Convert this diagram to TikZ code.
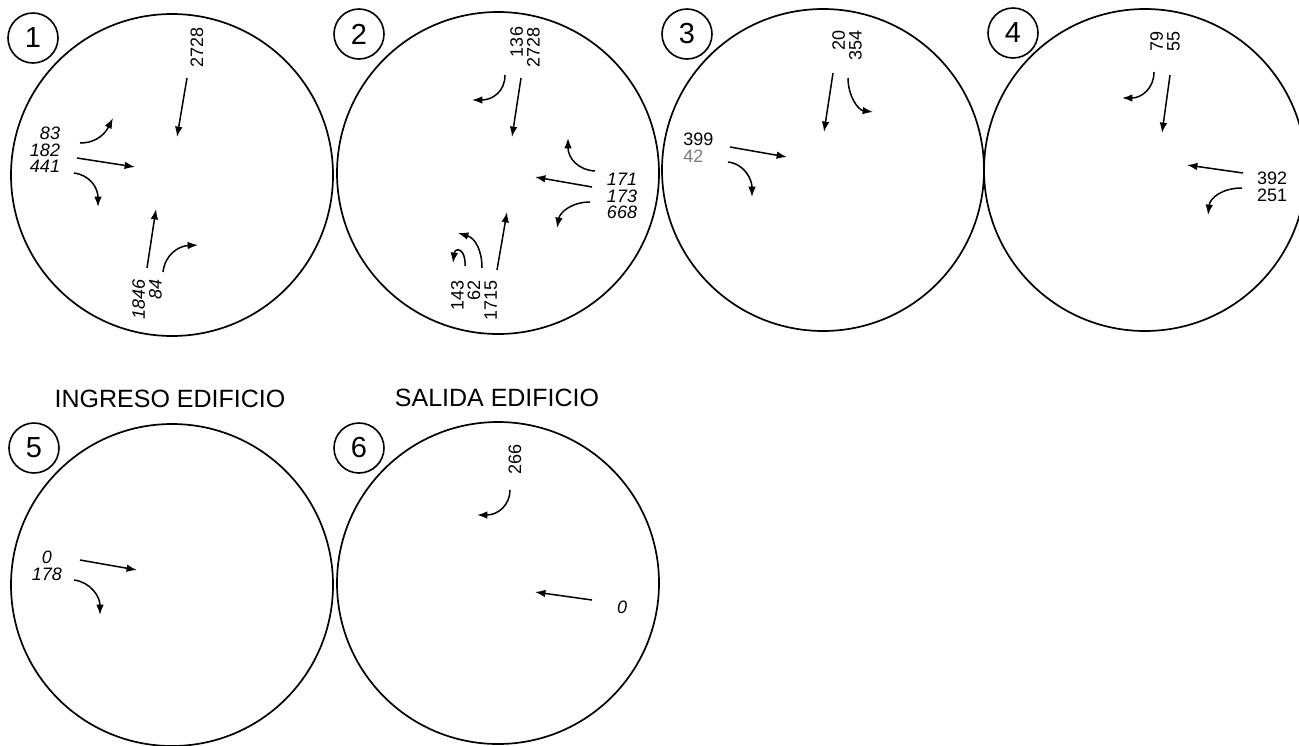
\documentclass[tikz,border=0pt]{standalone}
\usepackage{fontspec}
\setmainfont{Liberation Sans}
\usetikzlibrary{arrows.meta}
\definecolor{lightink}{RGB}{125,125,125}
\begin{document}
\begin{tikzpicture}[x=0.5pt,y=-0.5pt,
  big/.style={draw,circle,line width=0.85pt,minimum size=161pt,inner sep=0pt},
  lab/.style={draw,circle,line width=0.8pt,minimum size=25pt,inner sep=0pt,font=\fontsize{14.5}{14.5}\selectfont},
  num/.style={inner sep=0pt,font=\fontsize{9}{8.3}\selectfont},
  inum/.style={num,font=\fontsize{9}{8.3}\selectfont\itshape},
  ttl/.style={inner sep=0pt,font=\fontsize{12.5}{12.5}\selectfont},
  arr/.style={line width=0.75pt,-{Latex[length=5.2pt,width=3.8pt]}}]
\useasboundingbox (0,0) rectangle (1299,745);
\fill[white] (0,0) rectangle (1299,745);

% ---------- circle 1 ----------
\node[big] (C1) at (172,175) {};
\node[lab] (L1) at (33,38) {1};
\node[num,rotate=90] (t1a) at (197,47) {2728};
\node[inum,align=right] (t1b) at (45,150) {83\\182\\441};
\node[inum,rotate=90,align=right] (t1c) at (147,299) {1846\\84};
\coordinate (p1a) at (187,78);  \coordinate (q1a) at (177,137);
\coordinate (p1b) at (80,143);  \coordinate (q1b) at (113,118);
\coordinate (p1c) at (77,158);  \coordinate (q1c) at (135,167);
\coordinate (p1d) at (74,173);  \coordinate (q1d) at (98,207);
\coordinate (p1e) at (147,268); \coordinate (q1e) at (156,209);
\coordinate (p1f) at (163,272); \coordinate (q1f) at (198,245);
\draw[arr] (p1a) -- (q1a);
\draw[arr] (p1b) .. controls (98,143) and (106,132) .. (q1b);
\draw[arr] (p1c) -- (q1c);
\draw[arr] (p1d) .. controls (90,175) and (98,188) .. (q1d);
\draw[arr] (p1e) -- (q1e);
\draw[arr] (p1f) .. controls (165,255) and (178,246) .. (q1f);

% ---------- circle 2 ----------
\node[big] (C2) at (498,173) {};
\node[lab] (L2) at (359,34) {2};
\node[num,rotate=90,align=right] (t2a) at (525,47) {136\\2728};
\node[inum,align=right] (t2b) at (622,196) {171\\173\\668};
\node[num,rotate=90,align=right] (t2c) at (474,300) {143\\62\\1715};
\coordinate (p2a) at (505,75);  \coordinate (q2a) at (472,100);
\coordinate (p2b) at (521,78);  \coordinate (q2b) at (512,137);
\coordinate (p2c) at (595,171); \coordinate (q2c) at (568,138);
\coordinate (p2d) at (592,187); \coordinate (q2d) at (535,177);
\coordinate (p2e) at (590,202); \coordinate (q2e) at (557,228);
\coordinate (p2f) at (482,268); \coordinate (q2f) at (458,233);
\coordinate (p2g) at (465,266); \coordinate (q2g) at (453,263);
\coordinate (p2h) at (497,270); \coordinate (q2h) at (507,212);
\draw[arr] (p2a) .. controls (505,92) and (492,100) .. (q2a);
\draw[arr] (p2b) -- (q2b);
\draw[arr] (p2c) .. controls (578,170) and (568,158) .. (q2c);
\draw[arr] (p2d) -- (q2d);
\draw[arr] (p2e) .. controls (572,202) and (560,212) .. (q2e);
\draw[arr] (p2f) .. controls (482,250) and (475,238) .. (q2f);
\draw[arr] (p2g) .. controls (466,248) and (455,247) .. (q2g);
\draw[arr] (p2h) -- (q2h);

% ---------- circle 3 ----------
\node[big] (C3) at (823,170) {};
\node[lab] (L3) at (687,34) {3};
\node[num,rotate=90,align=right] (t3a) at (847,45) {20\\354};
\node[num,anchor=north west] (t3b) at (683,133) {399};
\node[num,anchor=north west,text=lightink] (t3c) at (683,150) {42};
\coordinate (p3a) at (833,73);  \coordinate (q3a) at (824,132);
\coordinate (p3b) at (848,78);  \coordinate (q3b) at (873,112);
\coordinate (p3c) at (730,147); \coordinate (q3c) at (787,157);
\coordinate (p3d) at (728,162); \coordinate (q3d) at (752,197);
\draw[arr] (p3a) -- (q3a);
\draw[arr] (p3b) .. controls (848,96) and (858,110) .. (q3b);
\draw[arr] (p3c) -- (q3c);
\draw[arr] (p3d) .. controls (745,164) and (752,180) .. (q3d);

% ---------- circle 4 ----------
\node[big] (C4) at (1145,170) {};
\node[lab] (L4) at (1013,33) {4};
\node[num,rotate=90,align=right] (t4a) at (1165,41) {79\\55};
\node[num,align=right] (t4b) at (1272,187) {392\\251};
\coordinate (p4a) at (1154,72);  \coordinate (q4a) at (1122,98);
\coordinate (p4b) at (1170,75);  \coordinate (q4b) at (1162,133);
\coordinate (p4c) at (1243,173); \coordinate (q4c) at (1187,165);
\coordinate (p4d) at (1242,188); \coordinate (q4d) at (1208,215);
\draw[arr] (p4a) .. controls (1154,88) and (1142,98) .. (q4a);
\draw[arr] (p4b) -- (q4b);
\draw[arr] (p4c) -- (q4c);
\draw[arr] (p4d) .. controls (1222,188) and (1210,198) .. (q4d);

% ---------- circle 5 ----------
\node[ttl] (T5) at (170,399) {INGRESO EDIFICIO};
\node[big] (C5) at (172,585) {};
\node[lab] (L5) at (34,448) {5};
\node[inum,align=center] (t5a) at (47,566) {0\\178};
\coordinate (p5a) at (80,560);  \coordinate (q5a) at (137,570);
\coordinate (p5b) at (74,580);  \coordinate (q5b) at (100,615);
\draw[arr] (p5a) -- (q5a);
\draw[arr] (p5b) .. controls (90,582) and (100,596) .. (q5b);

% ---------- circle 6 ----------
\node[ttl] (T6) at (497,398) {SALIDA EDIFICIO};
\node[big] (C6) at (498,583) {};
\node[lab] (L6) at (359,448) {6};
\node[num,rotate=90] (t6a) at (515,459) {266};
\node[inum] (t6b) at (622,607) {0};
\coordinate (p6a) at (510,490); \coordinate (q6a) at (477,515);
\coordinate (p6b) at (592,600); \coordinate (q6b) at (535,592);
\draw[arr] (p6a) .. controls (510,505) and (498,515) .. (q6a);
\draw[arr] (p6b) -- (q6b);
\end{tikzpicture}
\end{document}
